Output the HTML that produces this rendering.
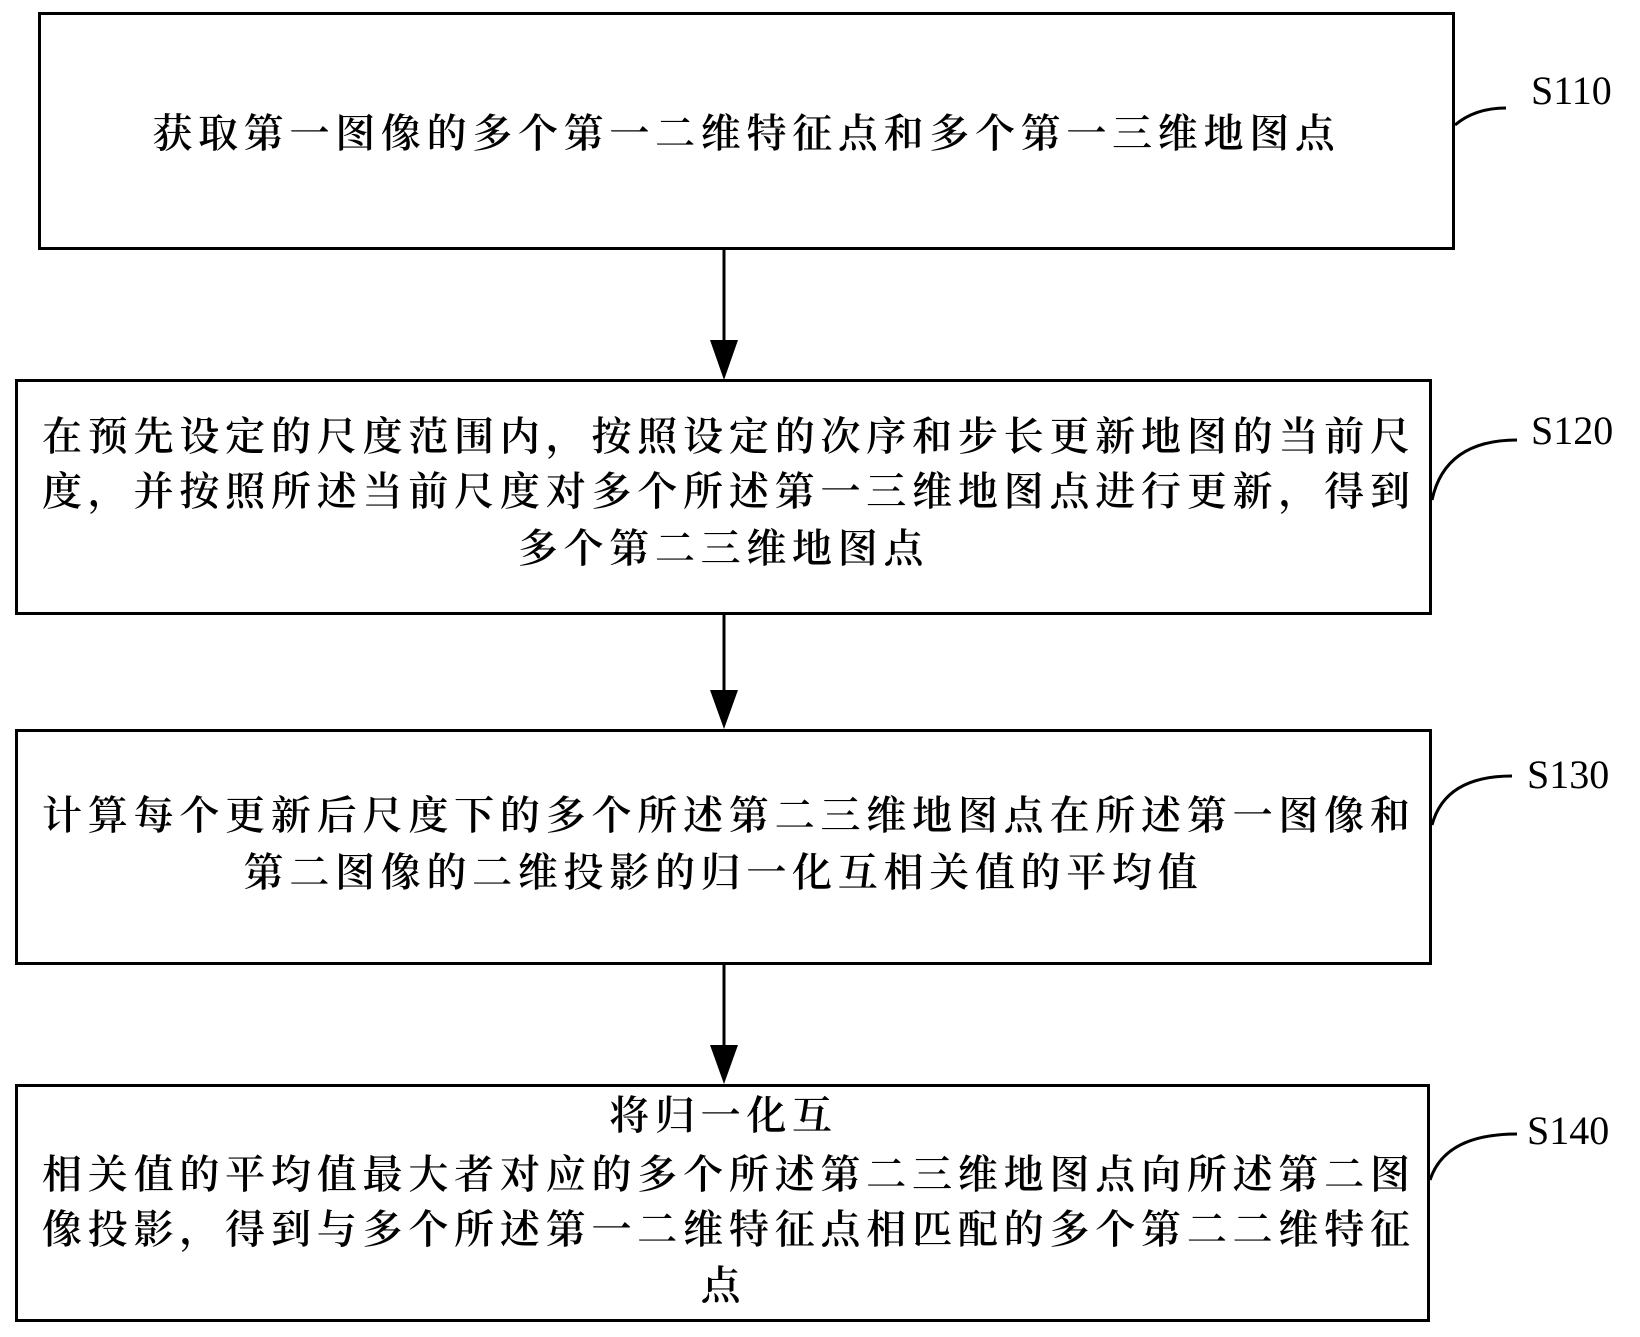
<!DOCTYPE html>
<html><head><meta charset="utf-8"><style>
body{margin:0;background:#fff;}
#c{position:relative;width:1640px;height:1337px;overflow:hidden;background:#fff;}
.box{position:absolute;border:3px solid #000;box-sizing:border-box;}
.t{position:absolute;height:50px;line-height:50px;font-family:"Liberation Serif","Noto Serif CJK SC",serif;font-size:40px;font-weight:600;color:#000;white-space:nowrap;}
.c{text-align:center;letter-spacing:5.7px;}
.j{text-align:justify;text-align-last:justify;}
.lab{position:absolute;font-family:"Liberation Serif",serif;font-size:40px;color:#000;line-height:40px;}
</style></head><body><div id="c">
<div class="box" style="left:38px;top:12px;width:1417px;height:238px"></div>
<div class="box" style="left:15px;top:379px;width:1417px;height:236px"></div>
<div class="box" style="left:15px;top:729px;width:1417px;height:236px"></div>
<div class="box" style="left:15px;top:1084px;width:1415px;height:238px"></div>

<div class="t c" style="left:38px;width:1417px;top:109px">获取第一图像的多个第一二维特征点和多个第一三维地图点</div>

<div class="t j" style="left:42px;width:1368px;top:412px">在预先设定的尺度范围内，按照设定的次序和步长更新地图的当前尺</div>
<div class="t j" style="left:42px;width:1368px;top:467px">度，并按照所述当前尺度对多个所述第一三维地图点进行更新，得到</div>
<div class="t c" style="left:15px;width:1417px;top:524px">多个第二三维地图点</div>

<div class="t j" style="left:42px;width:1368px;top:791px">计算每个更新后尺度下的多个所述第二三维地图点在所述第一图像和</div>
<div class="t c" style="left:15px;width:1417px;top:848px">第二图像的二维投影的归一化互相关值的平均值</div>

<div class="t c" style="left:15px;width:1417px;top:1091px">将归一化互</div>
<div class="t j" style="left:42px;width:1368px;top:1150px">相关值的平均值最大者对应的多个所述第二三维地图点向所述第二图</div>
<div class="t j" style="left:42px;width:1368px;top:1205px">像投影，得到与多个所述第一二维特征点相匹配的多个第二二维特征</div>
<div class="t c" style="left:15px;width:1417px;top:1261px">点</div>

<svg style="position:absolute;left:0;top:0" width="1640" height="1337">
<g stroke="#000" stroke-width="3" fill="none">
<line x1="724" y1="250" x2="724" y2="345"/>
<line x1="724" y1="615" x2="724" y2="695"/>
<line x1="724" y1="965" x2="724" y2="1050"/>
<path d="M1455 125 Q1475 108 1506 108"/>
<path d="M1432 500 Q1445 440 1517 440"/>
<path d="M1432 825 Q1445 776 1512 776"/>
<path d="M1430 1180 Q1445 1134 1517 1134"/>
</g>
<g fill="#000">
<polygon points="710,340 738,340 724,380"/>
<polygon points="710,690 738,690 724,729"/>
<polygon points="710,1045 738,1045 724,1084"/>
</g>
</svg>
<div class="lab" style="left:1531px;top:71px">S110</div>
<div class="lab" style="left:1531px;top:411px">S120</div>
<div class="lab" style="left:1527px;top:755px">S130</div>
<div class="lab" style="left:1527px;top:1111px">S140</div>
</div></body></html>
